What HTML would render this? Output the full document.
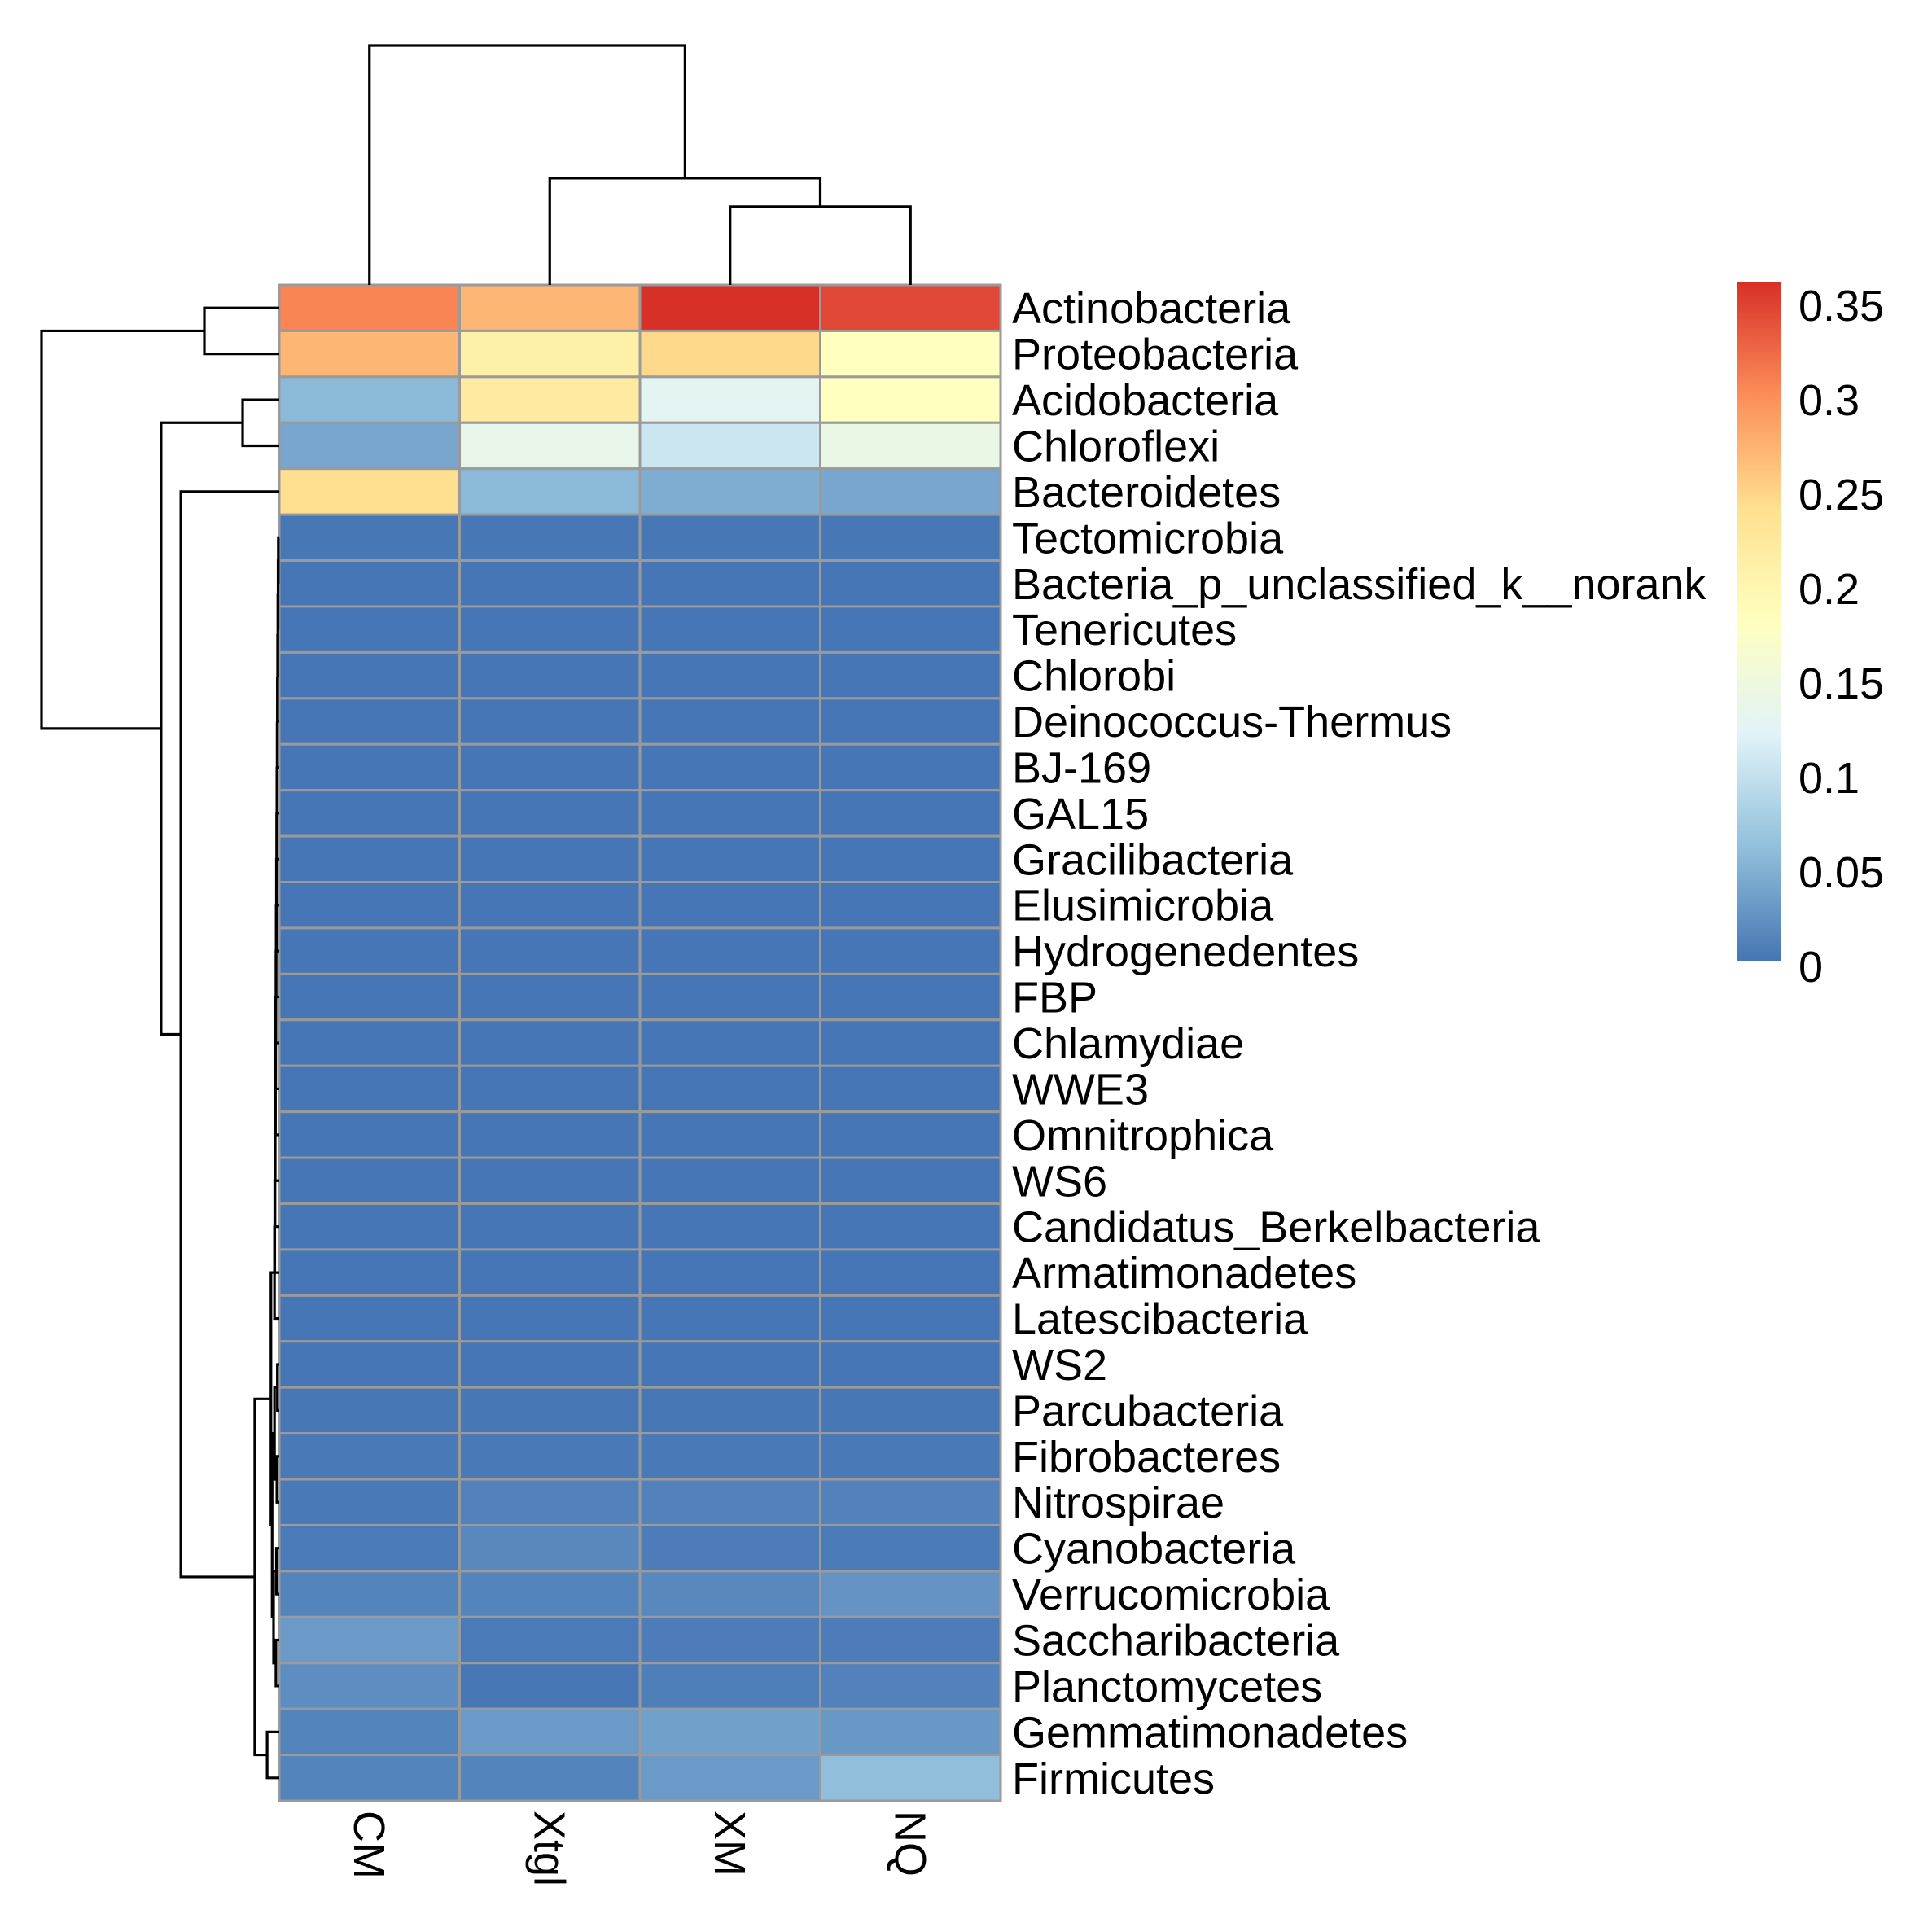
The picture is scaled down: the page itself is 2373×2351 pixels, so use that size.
<!DOCTYPE html>
<html><head><meta charset="utf-8"><style>
html,body{margin:0;padding:0;background:#fff;}
svg{display:block;font-family:"Liberation Sans",Arial,sans-serif;}
</style></head><body>
<svg id="chart" width="2373" height="2351" viewBox="0 0 2373 2351" xmlns="http://www.w3.org/2000/svg">
<g id="cells"></g>
<g id="rowdend"></g>
<g id="coldend"></g>
<g id="rowlabels"></g>
<g id="collabels"></g>
<g id="legend"></g>
</svg>
<script>
const columns = ["CM","Xtgl","XM","NQ"];
const rows = ["Actinobacteria","Proteobacteria","Acidobacteria","Chloroflexi","Bacteroidetes","Tectomicrobia","Bacteria_p_unclassified_k__norank","Tenericutes","Chlorobi","Deinococcus-Thermus","BJ-169","GAL15","Gracilibacteria","Elusimicrobia","Hydrogenedentes","FBP","Chlamydiae","WWE3","Omnitrophica","WS6","Candidatus_Berkelbacteria","Armatimonadetes","Latescibacteria","WS2","Parcubacteria","Fibrobacteres","Nitrospirae","Cyanobacteria","Verrucomicrobia","Saccharibacteria","Planctomycetes","Gemmatimonadetes","Firmicutes"];
const valCM   = [0.305,0.27,0.055,0.04,0.24, 0.002,0.001,0.001,0.001,0.001,0.001,0.001,0.001,0.001,0.001,0.001,0.001,0.001,0.001,0.001,0.001,0.001,0.001,0.001,0.002,0.003,0.003,0.004,0.012,0.03,0.02,0.012,0.012];
const valXtgl = [0.27,0.21,0.22,0.135,0.055, 0.002,0.001,0.001,0.001,0.001,0.001,0.001,0.001,0.001,0.001,0.001,0.001,0.001,0.001,0.001,0.001,0.001,0.001,0.001,0.002,0.003,0.01,0.015,0.012,0.004,0.002,0.03,0.012];
const valXM   = [0.36,0.245,0.125,0.105,0.045, 0.002,0.001,0.001,0.001,0.001,0.001,0.001,0.001,0.001,0.001,0.001,0.001,0.001,0.001,0.001,0.001,0.001,0.001,0.001,0.002,0.003,0.01,0.006,0.015,0.006,0.008,0.035,0.03];
const valNQ   = [0.345,0.18,0.18,0.14,0.04, 0.002,0.001,0.001,0.001,0.001,0.001,0.001,0.001,0.001,0.001,0.001,0.001,0.001,0.001,0.001,0.001,0.001,0.001,0.001,0.002,0.003,0.01,0.005,0.025,0.006,0.01,0.028,0.06];
const legendTicks = [0,0.05,0.1,0.15,0.2,0.25,0.3,0.35];
const legendLabels = ["0","0.05","0.1","0.15","0.2","0.25","0.3","0.35"];
const colMerges = [[-3,-4,0.327],[-2,1,0.446],[-1,2,1.0]];
const rowMerges = [
 [-1,-2,0.315],
 [-3,-4,0.154],
 [-6,-7,0.004],[3,-8,0.005],[4,-9,0.006],[5,-10,0.007],[6,-11,0.008],[7,-12,0.009],[8,-13,0.01],[9,-14,0.011],
 [10,-15,0.012],[11,-16,0.013],[12,-17,0.014],[13,-18,0.015],[14,-19,0.016],[15,-20,0.017],[16,-21,0.018],[17,-22,0.019],[18,-23,0.02],
 [-24,-25,0.008],[-26,-27,0.01],[-28,-29,0.012],[-30,-31,0.014],[20,21,0.02],[22,23,0.024],[24,25,0.03],
 [19,26,0.035],
 [-32,-33,0.051],
 [27,28,0.103],
 [-5,29,0.414],
 [2,30,0.497],
 [1,31,1.0]
];
const vmax = 0.36;
const pal = ["#4575B4","#91BFDB","#E0F3F8","#FFFFBF","#FEE090","#FC8D59","#D73027"];
function hex(c){return [1,3,5].map(i=>parseInt(c.substr(i,2),16));}
function colorOf(v){
  let t=Math.max(0,Math.min(1,v/vmax))*(pal.length-1);
  let i=Math.min(pal.length-2,Math.floor(t)),f=t-i;
  const a=hex(pal[i]),b=hex(pal[i+1]);
  return "rgb("+a.map((x,k)=>Math.round(x+(b[k]-x)*f)).join(",")+")";
}
const NS="http://www.w3.org/2000/svg";
function mk(tag,attrs,parent){const e=document.createElementNS(NS,tag);for(const k in attrs)e.setAttribute(k,attrs[k]);parent.appendChild(e);return e;}
const L=343,R=1229,T=350,B=2212;
const cw=(R-L)/columns.length, rh=(B-T)/rows.length;
const xCol=i=>L+cw*(i+0.5), yRow=i=>T+rh*(i+0.5);
const series=[valCM,valXtgl,valXM,valNQ];
const cells=document.getElementById('cells');
series.forEach((s,c)=>s.forEach((v,r)=>{
  const e=mk('rect',{x:L+c*cw,y:T+r*rh,width:cw,height:rh,fill:colorOf(v),stroke:'#9a9a9a','stroke-width':3},cells);
  
  
}));
const rl=document.getElementById('rowlabels');
rows.forEach((n,i)=>{
  const t=mk('text',{x:1243,y:yRow(i)+19,'font-size':54,fill:'#000'},rl);t.textContent=n;
  
  
});
const cl=document.getElementById('collabels');
columns.forEach((n,i)=>{
  const x=xCol(i)-19,y=2224;
  const t=mk('text',{x:x,y:y,'font-size':54,fill:'#000',transform:'rotate(90 '+x+' '+y+')'},cl);t.textContent=n;
  
  
});
function drawDend(merges,leafPos,hScale,base,horizontal,g){
  const pos={},ht={};
  function get(id){return id<0?[leafPos(-id-1),0]:[pos[id],ht[id]];}
  merges.forEach((m,k)=>{
    const id=k+1;const [pa,ha]=get(m[0]);const [pb,hb]=get(m[1]);const h=m[2];
    pos[id]=(pa+pb)/2;ht[id]=h;
    let d;
    if(horizontal){
      const xa=base-ha*hScale,xb=base-hb*hScale,xh=base-h*hScale;
      d=`M${xa},${pa}H${xh}V${pb}H${xb}`;
    }else{
      const ya=base-ha*hScale,yb=base-hb*hScale,yh=base-h*hScale;
      d=`M${pa},${ya}V${yh}H${pb}V${yb}`;
    }
    const p=mk('path',{d:d,fill:'none',stroke:'#000','stroke-width':3.2},g);
    
    
  });
}
drawDend(rowMerges,yRow,292,343,true,document.getElementById('rowdend'));
drawDend(colMerges,xCol,294,350,false,document.getElementById('coldend'));
const lg=document.getElementById('legend');
const defs=mk('defs',{},lg);
const grad=mk('linearGradient',{id:'lgGrad',x1:0,y1:1,x2:0,y2:0},defs);
pal.forEach((c,i)=>mk('stop',{offset:(i/(pal.length-1)),'stop-color':c},grad));
const barTop=346,barBot=1181;
const lb=mk('rect',{x:2134,y:barTop,width:54,height:barBot-barTop,fill:'url(#lgGrad)'},lg);


const ly=v=>barBot-(v/vmax)*(barBot-barTop);
legendTicks.forEach((v,i)=>{
  const t=mk('text',{x:2209,y:ly(v)+5+20,'font-size':54,fill:'#000'},lg);t.textContent=legendLabels[i];
  
  
});
</script>
</body></html>
